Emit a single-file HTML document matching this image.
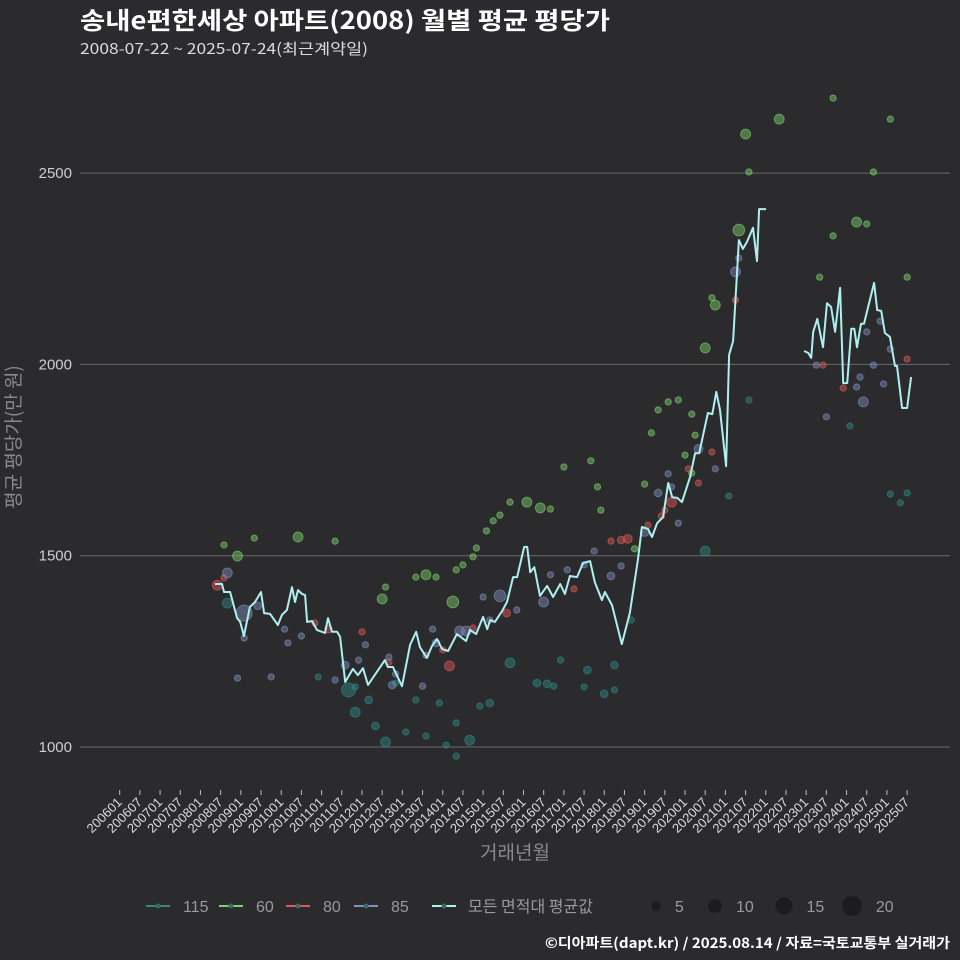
<!DOCTYPE html>
<html><head><meta charset="utf-8">
<style>
html,body{margin:0;padding:0;background:#2b2b2d;}
svg{display:block;font-family:"Liberation Sans","Noto Sans CJK KR",sans-serif;}
.kr{font-family:"Noto Sans CJK KR","Liberation Sans",sans-serif;}
</style></head>
<body>
<svg id="chart" width="960" height="960" viewBox="0 0 960 960">
<rect width="960" height="960" fill="#2b2b2d"/>
<text class="kr" x="80" y="29" font-size="24" font-weight="bold" fill="#ffffff" textLength="530" lengthAdjust="spacingAndGlyphs">송내e편한세상 아파트(2008) 월별 평균 평당가</text>
<text class="kr" x="80" y="54" font-size="15" fill="#dddddd" textLength="288" lengthAdjust="spacingAndGlyphs">2008-07-22 ~ 2025-07-24(최근계약일)</text>
<g id="grid"></g>
<g id="bubbles"></g>
<g id="lines"></g>
<g id="xaxis"></g>
<g transform="translate(20 437) rotate(-90)">
<text class="kr" x="0" y="0" font-size="19" fill="#8a8a8a" text-anchor="middle">평균 평당가(만 원)</text>
</g>
<text class="kr" x="515" y="859" font-size="19" fill="#8a8a8a" text-anchor="middle">거래년월</text>
<g id="legend"></g>
<text class="kr" x="950" y="948" font-size="14" font-weight="bold" fill="#ffffff" text-anchor="end" textLength="405" lengthAdjust="spacingAndGlyphs">©디아파트(dapt.kr) / 2025.08.14 / 자료=국토교통부 실거래가</text>
</svg>
<script>
// ---- data ----
const yTicks = [1000, 1500, 2000, 2500];
const xTickLabels = [];
for (let y = 2006; y <= 2025; y++) { xTickLabels.push(y + "01"); xTickLabels.push(y + "07"); }
// line: months since 2006-01, average value
const lineMonths1 = [28.3,30.4,31,32.8,34.9,35.8,36.9,38.7,40.2,42,42.9,44.7,47,48.2,49.7,51.2,52.1,53,54.2,55.1,55.7,57.2,58.6,61,61.9,63.1,64.6,65.5,67,69.3,70.8,72.3,73.8,76.8,78.8,79.7,81.2,83.9,86.3,88.1,89.2,91.3,92.8,94.3,95.8,97.6,100.2,102.9,104.1,105.9,108,109.2,110.1,111.5,113.6,115.1,116.9,118.1,120.2,121.1,122,123.2,124.9,127,128.8,130.9,132.3,133.8,135.9,137.7,139.8,141.2,143.3,144.2,146.3,149.2,151.6,154,155.2,157,158.2,159.7,161.5,163,164.2,165.7,167.1,169.5,171,172.2,174.8,176.1,177.3,178.4,180.2,181.1,182.3,184,185.2,186.4,188.2,189.4,190,192.1];
const lineValues1 = [1426,1426,1405,1405,1337,1327,1290,1366,1379,1405,1350,1348,1319,1345,1358,1418,1379,1410,1400,1397,1327,1329,1306,1298,1337,1301,1301,1288,1170,1204,1188,1206,1162,1201,1227,1209,1209,1159,1267,1301,1261,1233,1264,1282,1256,1251,1295,1277,1306,1295,1340,1308,1332,1327,1355,1379,1444,1444,1523,1523,1457,1470,1395,1421,1392,1426,1400,1447,1444,1481,1486,1431,1384,1405,1371,1269,1350,1489,1575,1570,1549,1585,1601,1690,1653,1651,1640,1706,1768,1768,1873,1870,1928,1881,1734,2025,2061,2325,2302,2320,2357,2270,2406,2406];
const lineMonths2 = [203.4,204.6,205.5,206.1,207.3,209,210.2,211.4,212.6,214.1,215,216.2,217.4,218.3,219.1,220.3,221.2,224.2,225.1,226.3,227.4,228.9,230.4,231,232.5,234,235.2];
const lineValues2 = [2035,2030,2017,2085,2119,2045,2160,2150,2085,2200,1951,1951,2093,2093,2045,2106,2106,2213,2142,2140,2082,2072,1996,1996,1886,1886,1967];
// bubbles per area group
const g60Months = [31,35,40,53,64,78,79,88,91,94,99,100,102,105,106,109,111,113,116,121,125,128,132,140,142,153,156,158,160,163,166,170,171,174,176,177,186,187,184,196,212,219,222,224,234,208,212,170,168,143,229];
const g60Values = [1528,1499,1546,1549,1538,1387,1418,1444,1450,1444,1379,1463,1476,1497,1520,1565,1591,1606,1640,1640,1625,1622,1732,1748,1680,1518,1687,1821,1881,1902,1907,1870,1815,2043,2174,2155,2602,2503,2351,2641,2696,2372,2367,2503,2228,2228,2336,1716,1763,1619,2641];
const g60Counts = [2,5,2,5,2,5,2,2,5,2,7,2,2,2,2,2,2,2,2,5,5,2,2,2,2,2,2,2,2,2,2,2,2,5,2,5,5,2,7,5,2,5,2,2,2,2,2,2,2,2,2];
const g115Months = [68,70,74,76,79,85,91,100,104,107,110,116,124,127,129,139,144,138,147,147,152,174,181,187,217,229,232,234,100,97,88,82,70,59,32,95,131];
const g115Values = [1149,1091,1123,1055,1013,1039,1029,1063,1018,1107,1115,1220,1167,1165,1159,1201,1139,1157,1214,1149,1332,1512,1656,1907,1839,1661,1638,1664,976,1005,1123,1167,1157,1183,1376,1115,1227];
const g115Counts = [10,5,3,3,5,2,2,2,5,2,3,5,3,3,2,3,3,2,3,2,2,5,2,2,2,2,2,2,2,2,2,2,2,2,5,2,2];
const g80Months = [29,31,58,62,72,80,98,96,105,115,135,149,151,157,162,164,172,176,183,215,234,169,161,146,209];
const g80Values = [1423,1442,1324,1308,1301,1222,1212,1254,1311,1350,1413,1541,1544,1580,1619,1640,1690,1771,2168,1938,2014,1727,1604,1538,1998];
const g80Counts = [5,2,2,3,2,2,5,2,2,3,2,3,4,2,2,5,2,2,2,2,2,2,2,2,2];
const g85Months = [32,37,41,35,49,37,45,54,50,67,71,64,73,80,82,81,91,90,93,94,101,103,108,110,113,118,126,128,133,138,141,146,149,156,160,163,164,166,172,177,183,184,207,210,221,219,220,227,222,226,229,224];
const g85Values = [1455,1350,1369,1180,1308,1285,1183,1290,1272,1214,1227,1175,1267,1235,1191,1162,1240,1159,1308,1272,1303,1303,1392,1332,1395,1358,1379,1450,1463,1476,1512,1447,1473,1562,1664,1714,1680,1585,1779,1727,2242,2278,1998,1863,1902,1941,1967,1949,2085,2113,2040,1998];
const g85Counts = [5,13,3,2,2,2,2,2,2,3,2,2,2,2,2,3,2,2,2,3,5,5,2,2,7,2,5,2,2,2,2,3,2,4,3,2,2,2,4,2,5,2,2,2,5,2,2,2,2,2,2,2];
const legendGroups = ["115","60","80","85"];
const legendSizes = [5,10,15,20];

// ---- scales ----
const NS = "http://www.w3.org/2000/svg";
const X0 = 119.7, XS = 3.365;
function xScale(m){ return X0 + m*XS; }
function yScale(v){ return 747 - (v-1000)*0.3826; }
function rScale(n){ return 2.2*Math.sqrt(n); }
function mk(tag, attrs, parent){ const e=document.createElementNS(NS,tag); for(const k in attrs) e.setAttribute(k,attrs[k]); parent.appendChild(e); return e; }

const grid = document.getElementById("grid");
yTicks.forEach(function(t){
  const l = mk("line",{x1:80,x2:950,y1:yScale(t),y2:yScale(t),stroke:"#6a6a6a","stroke-width":1},grid);
  
  
  const tx = mk("text",{x:72,y:yScale(t)+5,"font-size":15,fill:"#cfcfcf","text-anchor":"end"},grid);
  tx.textContent = t;
  
  
});

const xa = document.getElementById("xaxis");
xTickLabels.forEach(function(lab,i){
  const x = xScale(i*6);
  const tk = mk("line",{x1:x,x2:x,y1:790,y2:795,stroke:"#bbbbbb","stroke-width":1},xa);
  
  
  const t = mk("text",{x:x+3,y:803,"font-size":13,fill:"#dddddd","text-anchor":"end",transform:"rotate(-45 "+(x+3)+" 803)"},xa);
  t.textContent = lab;
  
  
});

const colors = {"115":"#2f8b86","60":"#7fd36e","80":"#e05a5a","85":"#8190bf"};
const bl = document.getElementById("bubbles");
function drawGroup(key, months, values, counts){
  months.forEach(function(m,i){
    const c = mk("circle",{cx:xScale(m),cy:yScale(values[i]),r:rScale(counts[i]),fill:colors[key],"fill-opacity":0.45,stroke:colors[key],"stroke-opacity":0.6,"stroke-width":1},bl);
    
    
  });
}
drawGroup("115", g115Months, g115Values, g115Counts);
drawGroup("60", g60Months, g60Values, g60Counts);
drawGroup("80", g80Months, g80Values, g80Counts);
drawGroup("85", g85Months, g85Values, g85Counts);

const ll = document.getElementById("lines");
function drawLine(ms, vs, nm){
  const d = ms.map(function(m,i){ return (i?"L":"M")+xScale(m).toFixed(1)+" "+yScale(vs[i]).toFixed(1); }).join(" ");
  const p = mk("path",{d:d,fill:"none",stroke:"#aef0ef","stroke-width":2,"stroke-linejoin":"round"},ll);
  
  
}
drawLine(lineMonths1, lineValues1, 'average-line-segment-1');
drawLine(lineMonths2, lineValues2, 'average-line-segment-2');

// legend
const lg = document.getElementById("legend");
const lx = [146,219,286,354];
legendGroups.forEach(function(k,i){
  const x = lx[i];
  const s = mk("line",{x1:x,x2:x+24,y1:906,y2:906,stroke:colors[k],"stroke-width":2},lg);
  
  
  const c = mk("circle",{cx:x+12,cy:906,r:2.5,fill:"#3a6a6a"},lg);
  
  
  const t = mk("text",{x:x+37,y:912,"font-size":16,fill:"#9a9a9a"},lg);
  t.textContent = k;
  
  
});
const as = mk("line",{x1:432,x2:456,y1:906,y2:906,stroke:"#aef0ef","stroke-width":2},lg);


const ac = mk("circle",{cx:444,cy:906,r:2.5,fill:"#3a6a6a"},lg);


const at = mk("text",{x:468,y:912,"font-size":16,fill:"#9a9a9a","class":"kr"},lg);
at.textContent = "모든 면적대 평균값";


const sx = [656,715,784,852];
legendSizes.forEach(function(n,i){
  const c = mk("circle",{cx:sx[i],cy:906,r:rScale(n),fill:"#1c1c1e"},lg);
  
  
  const t = mk("text",{x:sx[i]+rScale(n)+14,y:912,"font-size":16,fill:"#9a9a9a"},lg);
  t.textContent = n;
  
  
});
</script>
</body></html>
